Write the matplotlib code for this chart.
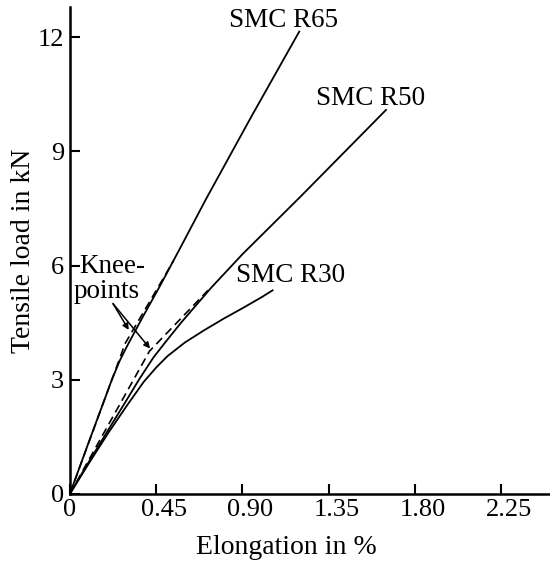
import matplotlib
matplotlib.use("Agg")
import matplotlib.pyplot as plt
from matplotlib.transforms import ScaledTranslation

plt.rcParams['font.family'] = ['Liberation Serif', 'DejaVu Serif']

# curves (elongation %, load kN)
r65_x = [0, 0.10, 0.15, 0.219, 0.26, 0.30, 0.38, 0.465, 0.574, 0.709, 0.95, 1.196]
r65_y = [0, 1.38, 2.06, 3.00, 3.50, 3.90, 4.65, 5.42, 6.45, 7.74, 9.95, 12.15]

r50_x = [0, 0.10, 0.20, 0.30, 0.36, 0.435, 0.50, 0.58, 0.737, 0.90, 1.20, 1.648]
r50_y = [0, 0.85, 1.68, 2.50, 3.00, 3.58, 4.00, 4.50, 5.42, 6.30, 7.80, 10.09]

r30_x = [0, 0.10, 0.20, 0.30, 0.386, 0.45, 0.509, 0.60, 0.70, 0.80, 0.90, 1.00, 1.057]
r30_y = [0, 0.81, 1.60, 2.34, 2.95, 3.32, 3.62, 3.98, 4.30, 4.60, 4.88, 5.17, 5.35]

# bilinear approximations with knee points
knee65_x = [0, 0.289, 0.54]
knee65_y = [0, 3.96, 6.12]
knee50_x = [0, 0.415, 0.72]
knee50_y = [0, 3.75, 5.35]

xticks = [0, 0.45, 0.90, 1.35, 1.80, 2.25]
xtick_labels = ["0", "0.45", "0.90", "1.35", "1.80", "2.25"]
yticks = [0, 3, 6, 9, 12]

fig = plt.figure(figsize=(5.5, 5.69), dpi=100)
ax = fig.add_axes([0.127, 0.132, 0.873, 0.856])

ax.plot(r65_x, r65_y, color="black", lw=1.3)
ax.plot(r50_x, r50_y, color="black", lw=1.3)
ax.plot(r30_x, r30_y, color="black", lw=1.3)
ax.plot(knee65_x, knee65_y, color="black", lw=1.2, ls=(0, (5, 3)))
ax.plot(knee50_x, knee50_y, color="black", lw=1.2, ls=(0, (5, 3)))

ax.text(0.83, 12.26, "SMC R65", fontsize=19.5, va="baseline", ha="left")
ax.text(1.284, 10.22, "SMC R50", fontsize=19.5, va="baseline", ha="left")
ax.text(0.868, 5.58, "SMC R30", fontsize=19.5, va="baseline", ha="left")
ax.text(0.047, 5.80, "Knee-", fontsize=19.5, va="baseline", ha="left")
ax.text(0.018, 5.16, "points", fontsize=19.5, va="baseline", ha="left")

for tx, ty in [(0.307, 4.31), (0.418, 3.82)]:
    ax.annotate("", xy=(tx, ty), xytext=(0.225, 5.0),
                arrowprops=dict(arrowstyle="-|>", color="black", lw=1.1,
                                mutation_scale=9, shrinkA=0, shrinkB=0))

ax.set_xlim(0, 2.503)
ax.set_ylim(0, 12.8)
ax.set_xticks(xticks)
ax.set_xticklabels(xtick_labels)
ax.set_yticks(yticks)
ax.tick_params(direction="in", length=7, width=1.5, labelsize=19, pad=4)
for lbl in ax.get_xticklabels()[1:]:
    lbl.set_transform(lbl.get_transform() + ScaledTranslation(0.08, 0, fig.dpi_scale_trans))
for s in ["top", "right"]:
    ax.spines[s].set_visible(False)
for s in ["left", "bottom"]:
    ax.spines[s].set_linewidth(1.8)

ax.set_xlabel("Elongation in %", fontsize=20)
ax.xaxis.set_label_coords(0.45, -0.085)
ax.set_ylabel("Tensile load in kN", fontsize=20, labelpad=1)

fig.savefig("out.png", dpi=100)
